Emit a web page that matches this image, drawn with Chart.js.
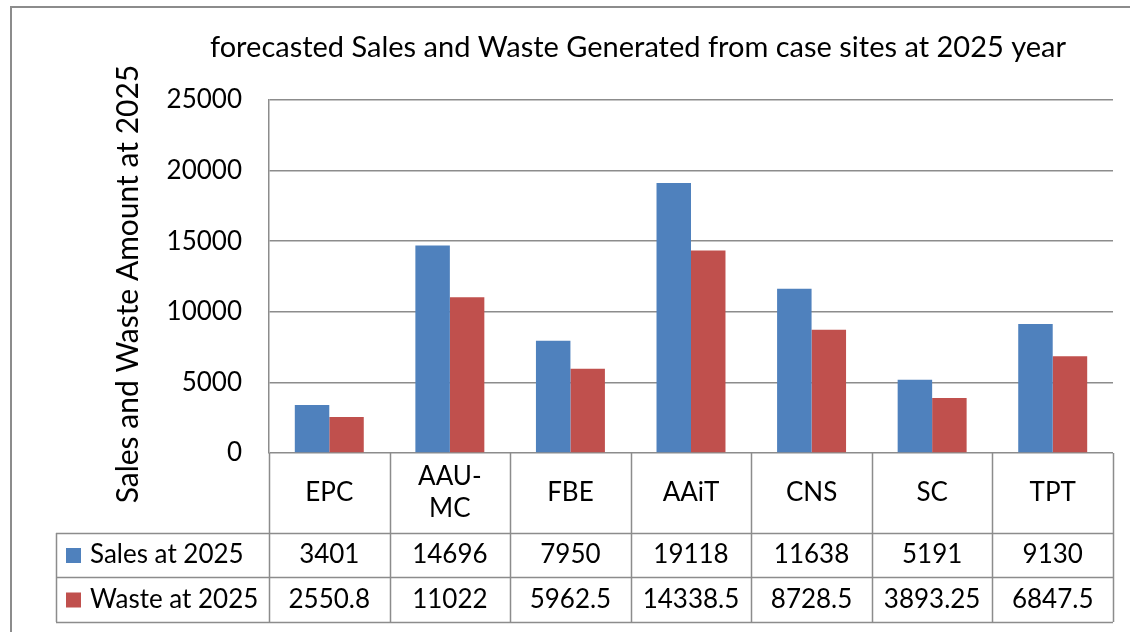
<!DOCTYPE html>
<html lang="en">
<head>
<meta charset="UTF-8">
<title>forecasted Sales and Waste Generated</title>
<style>
  html, body { margin: 0; padding: 0; background: #fff; }
  canvas { display: block; }
</style>
<script src="https://cdn.jsdelivr.net/npm/chart.js"></script>
</head>
<body>
<canvas id="chart" width="1130" height="632"></canvas>
<script>
const categories = [['EPC'], ['AAU-', 'MC'], ['FBE'], ['AAiT'], ['CNS'], ['SC'], ['TPT']];
const seriesNames = ['Sales at 2025', 'Waste at 2025'];
const sales = [3401, 14696, 7950, 19118, 11638, 5191, 9130];
const waste = [2550.8, 11022, 5962.5, 14338.5, 8728.5, 3893.25, 6847.5];
const yTicks = [0, 5000, 10000, 15000, 20000, 25000];

const FONT = 'Lato, "Open Sans", sans-serif';
const BLUE = '#4F81BD';
const RED = '#C0504D';
const LINE = '#8c8c8c';

// title, frame, axis title and the data table under the plot
const tablePlugin = {
    id: 'tablePlugin',
    afterDraw(chart) {
        const ctx = chart.ctx;
        const area = chart.chartArea;
        const x = chart.scales.x;
        const step = (area.right - area.left) / categories.length;
        const rowTop = area.bottom;
        const row1 = rowTop + 80;
        const row2 = row1 + 44;
        const row3 = row2 + 45;
        const legendLeft = 56;

        ctx.save();

        // outer frame
        ctx.strokeStyle = LINE;
        ctx.lineWidth = 2;
        ctx.strokeRect(11, 7, 1130, 640);

        // title
        ctx.fillStyle = '#000';
        ctx.font = '29px ' + FONT;
        ctx.textAlign = 'center';
        ctx.textBaseline = 'middle';
        ctx.fillText('forecasted Sales and Waste Generated from case sites at 2025 year', 638, 48);

        // y axis title
        ctx.save();
        ctx.translate(128, 284);
        ctx.rotate(-Math.PI / 2);
        ctx.font = '30px ' + FONT;
        ctx.fillText('Sales and Waste Amount at 2025', 0, 0);
        ctx.restore();

        // table grid
        ctx.lineWidth = 1.5;
        ctx.beginPath();
        for (let i = 0; i <= categories.length; i++) {
            const px = Math.round(area.left + i * step) + 0.5;
            ctx.moveTo(px, rowTop);
            ctx.lineTo(px, row3);
        }
        ctx.moveTo(legendLeft + 0.5, row1);
        ctx.lineTo(legendLeft + 0.5, row3);
        [row1, row2, row3].forEach(r => {
            ctx.moveTo(legendLeft, r + 0.5);
            ctx.lineTo(area.right, r + 0.5);
        });
        ctx.stroke();

        // category labels
        ctx.font = '26px ' + FONT;
        categories.forEach((lines, i) => {
            const cx = x.getPixelForValue(i);
            const mid = (rowTop + row1) / 2;
            const lh = 32;
            lines.forEach((t, j) => {
                ctx.fillText(t, cx, mid + (j - (lines.length - 1) / 2) * lh);
            });
        });

        // value rows
        const rows = [sales, waste];
        const colors = [BLUE, RED];
        const tops = [row1, row2];
        const bottoms = [row2, row3];
        rows.forEach((vals, r) => {
            const mid = (tops[r] + bottoms[r]) / 2;
            ctx.fillStyle = colors[r];
            ctx.fillRect(66, mid - 7, 15, 15);
            ctx.fillStyle = '#000';
            ctx.textAlign = 'left';
            ctx.fillText(seriesNames[r], 90, mid);
            ctx.textAlign = 'center';
            vals.forEach((v, i) => {
                ctx.fillText(String(v), x.getPixelForValue(i), mid);
            });
        });

        ctx.restore();
    }
};

new Chart(document.getElementById('chart'), {
    type: 'bar',
    data: {
        labels: categories,
        datasets: [
            { label: seriesNames[0], data: sales, backgroundColor: BLUE },
            { label: seriesNames[1], data: waste, backgroundColor: RED }
        ]
    },
    options: {
        responsive: false,
        animation: false,
        layout: { padding: { left: 0, right: 17, top: 100, bottom: 179 } },
        datasets: { bar: { categoryPercentage: 0.572, barPercentage: 1 } },
        plugins: {
            legend: { display: false },
            tooltip: { enabled: false }
        },
        scales: {
            x: { display: false },
            y: {
                min: 0,
                max: 25000,
                afterBuildTicks(scale) {
                    scale.ticks = yTicks.map(v => ({ value: v }));
                },
                afterFit(scale) { scale.width = 269; },
                ticks: {
                    color: '#000',
                    font: { family: FONT, size: 26 },
                    padding: 27,
                    callback: v => String(v)
                },
                grid: { color: LINE, lineWidth: 1.5, drawTicks: false },
                border: { display: true, color: LINE, width: 1.5 }
            }
        }
    },
    plugins: [tablePlugin]
});
</script>
</body>
</html>
